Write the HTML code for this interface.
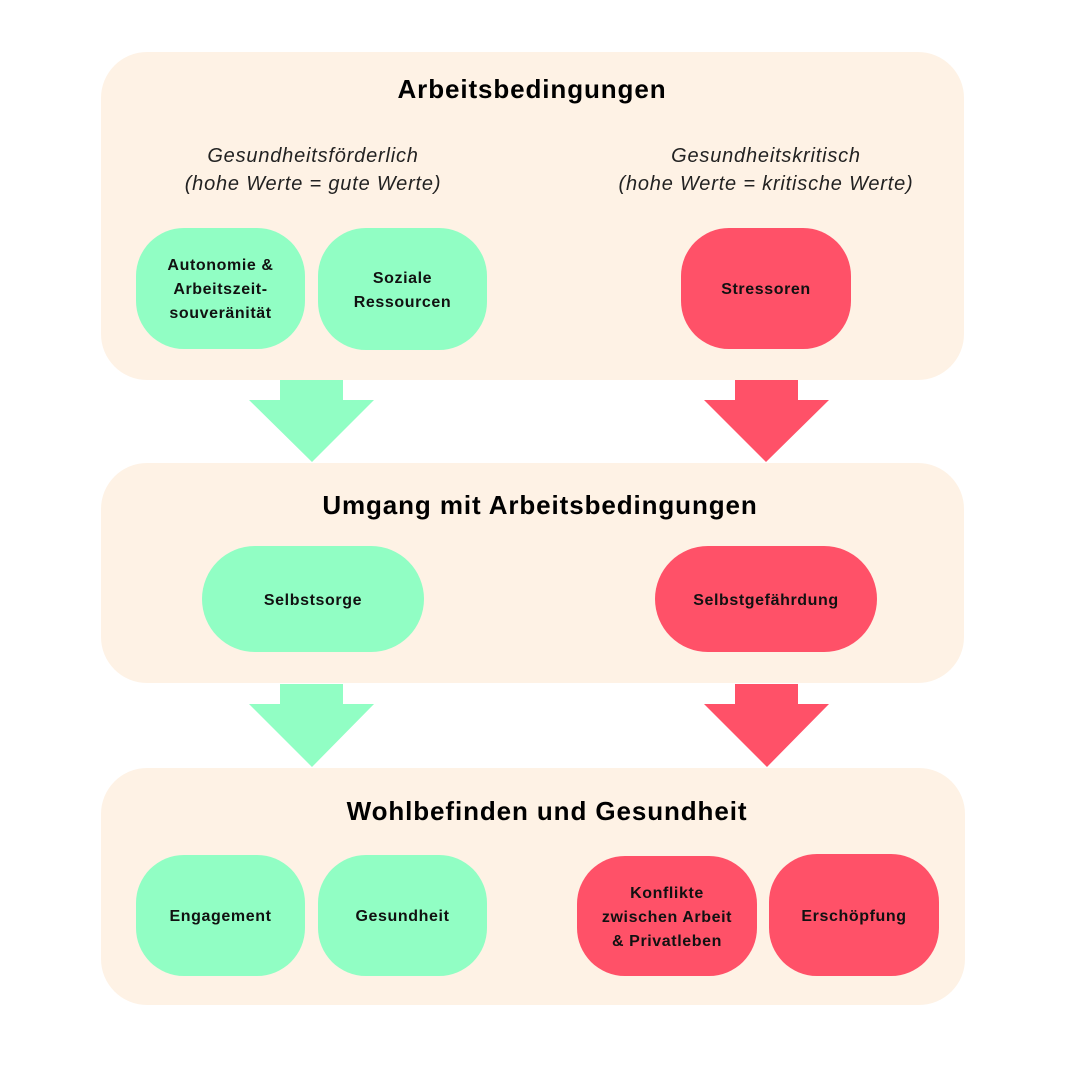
<!DOCTYPE html>
<html><head><meta charset="utf-8"><style>
body{margin:0;width:1080px;height:1080px;background:#fff;position:relative;overflow:hidden;font-family:"Liberation Sans",sans-serif;}
.p{position:absolute;background:#fef2e5;border-radius:46px;}
.n{position:absolute;display:flex;align-items:center;justify-content:center;text-align:center;font-weight:bold;font-size:16px;letter-spacing:0.6px;line-height:24px;color:#111;border-radius:48px;padding-top:3px;box-sizing:border-box;}
.g{background:#91fec4;}
.r{background:#ff5168;}
.t{position:absolute;font-weight:bold;font-size:26px;letter-spacing:0.9px;color:#000;text-align:center;width:1080px;left:0;}
.s{position:absolute;font-style:italic;font-size:20px;letter-spacing:0.8px;line-height:28px;color:#222;text-align:center;width:440px;}
</style></head><body>
<div class="p" style="left:101px;top:52px;width:863px;height:328px"></div>
<div class="p" style="left:101px;top:463px;width:863px;height:220px"></div>
<div class="p" style="left:101px;top:768px;width:864px;height:237px"></div>
<div class="t" style="top:74px;left:-8px">Arbeitsbedingungen</div>
<div class="t" style="top:490px">Umgang mit Arbeitsbedingungen</div>
<div class="t" style="top:796px;left:7px">Wohlbefinden und Gesundheit</div>
<div class="s" style="left:93px;top:142px">Gesundheitsförderlich<br>(hohe Werte = gute Werte)</div>
<div class="s" style="left:546px;top:142px">Gesundheitskritisch<br>(hohe Werte = kritische Werte)</div>
<div class="n g" style="left:136px;top:228px;width:169px;height:121px">Autonomie &amp;<br>Arbeitszeit-<br>souveränität</div>
<div class="n g" style="left:318px;top:228px;width:169px;height:122px">Soziale<br>Ressourcen</div>
<div class="n r" style="left:681px;top:228px;width:170px;height:121px">Stressoren</div>
<div class="n g" style="left:202px;top:546px;width:222px;height:106px;border-radius:53px">Selbstsorge</div>
<div class="n r" style="left:655px;top:546px;width:222px;height:106px;border-radius:53px">Selbstgefährdung</div>
<div class="n g" style="left:136px;top:855px;width:169px;height:121px">Engagement</div>
<div class="n g" style="left:318px;top:855px;width:169px;height:121px">Gesundheit</div>
<div class="n r" style="left:577px;top:856px;width:180px;height:120px">Konflikte<br>zwischen Arbeit<br>&amp; Privatleben</div>
<div class="n r" style="left:769px;top:854px;width:170px;height:122px">Erschöpfung</div>
<svg width="1080" height="1080" style="position:absolute;left:0;top:0">
<polygon fill="#91fec4" points="280,380 343,380 343,400 374,400 312,462 249,400 280,400"/>
<polygon fill="#ff5168" points="735,380 798,380 798,400 829,400 766,462 704,400 735,400"/>
<polygon fill="#91fec4" points="280,684 343,684 343,704 374,704 312,767 249,704 280,704"/>
<polygon fill="#ff5168" points="735,684 798,684 798,704 829,704 767,767 704,704 735,704"/>
</svg>
</body></html>
